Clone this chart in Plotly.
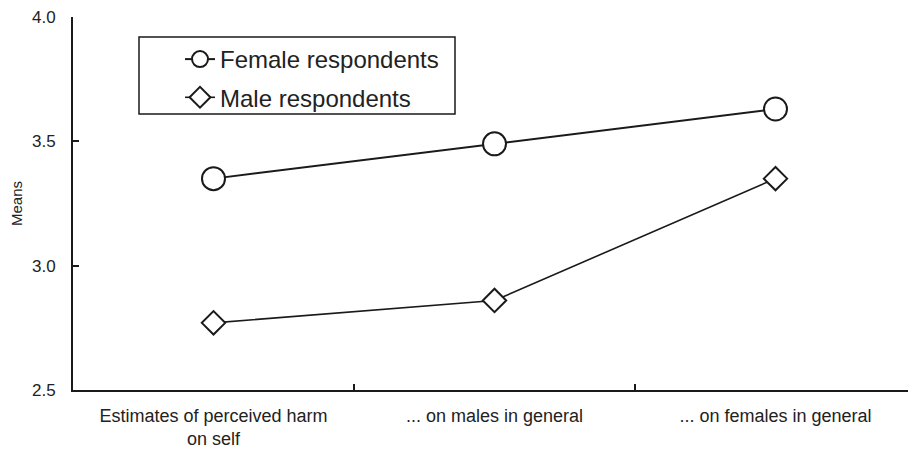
import plotly.graph_objects as go

categories = ["Estimates of perceived harm<br>on self", "... on males in general", "... on females in general"]
female = [3.35, 3.49, 3.63]
male = [2.77, 2.86, 3.35]
y_ticks = [2.5, 3.0, 3.5, 4.0]

ink = "#1a1a1a"
# page has an 8px body margin: figure drawn at (8, 8), so size and margins compensate
OFF = 8
PL, PR, PT, PB = 73, 916, 17, 390  # plot area in page pixels
PW, PH = PR - PL, PB - PT

fig = go.Figure()
fig.add_trace(go.Scatter(
    x=categories, y=female, name="Female respondents", mode="lines+markers",
    legendgroup="f",
    line=dict(color=ink, width=2),
    marker=dict(symbol="circle", size=23, color="white", line=dict(color=ink, width=2)),
))
fig.add_trace(go.Scatter(
    x=categories, y=male, name="Male respondents", mode="lines+markers",
    legendgroup="m",
    line=dict(color=ink, width=1.6),
    marker=dict(symbol="diamond", size=18, color="white", line=dict(color=ink, width=2)),
))

fig.add_shape(type="rect", xref="paper", yref="paper",
              x0=(139 - PL) / PW, x1=(455 - PL) / PW,
              y0=(PB - 114) / PH, y1=(PB - 37) / PH,
              line=dict(color=ink, width=1.5), fillcolor="white", layer="below")

fig.update_layout(
    width=916 - OFF, height=450 - OFF,
    margin=dict(l=PL - OFF, r=0, t=PT - OFF, b=450 - PB),
    paper_bgcolor="white", plot_bgcolor="white",
    font=dict(family="Arial, Liberation Sans, sans-serif", color="#222"),
    showlegend=True,
    legend=dict(
        x=(180 - PL) / PW, y=(PB - 37) / PH, xanchor="left", yanchor="top",
        bgcolor="rgba(0,0,0,0)", borderwidth=0,
        font=dict(size=24, color="#222"),
        tracegroupgap=4,
    ),
    xaxis=dict(
        type="category", range=[-0.5, 2.5], tickson="boundaries",
        ticks="inside", ticklen=6, tickcolor=ink, tickwidth=1.5,
        showline=True, linecolor=ink, linewidth=2,
        showgrid=False, zeroline=False, automargin=False,
        tickfont=dict(size=18, color="#222"),
        ticklabelstandoff=8, ticklabeloverflow="allow",
    ),
    yaxis=dict(
        range=[2.5, 4.0], tickvals=y_ticks, tickformat=".1f",
        ticks="inside", ticklen=6, tickcolor=ink, tickwidth=1.5,
        showline=True, linecolor=ink, linewidth=2,
        showgrid=False, zeroline=False, automargin=False,
        tickfont=dict(size=17, color="#222"),
        ticklabelstandoff=12, ticklabeloverflow="allow",
        title=dict(text="Means", font=dict(size=15, color="#222"), standoff=8),
    ),
)

fig.write_html("out.html")
